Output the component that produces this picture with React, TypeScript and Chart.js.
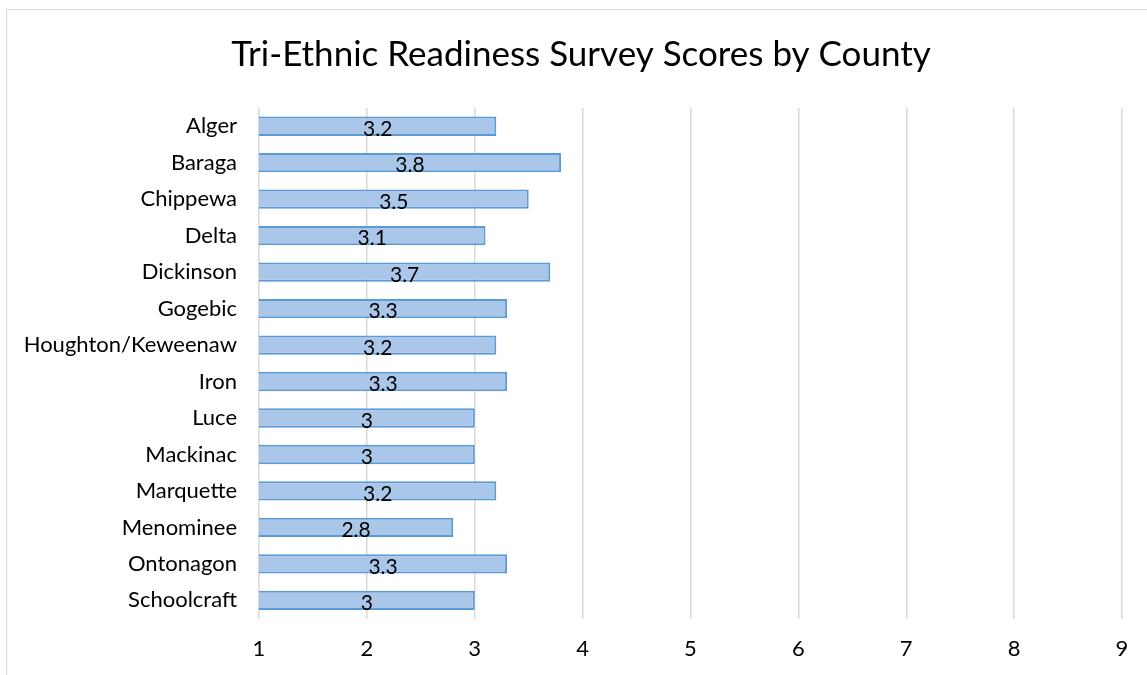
import React, { useEffect, useRef } from "react";
import { Chart, registerables } from "chart.js";

Chart.register(...registerables);

const categories = [
  "Alger",
  "Baraga",
  "Chippewa",
  "Delta",
  "Dickinson",
  "Gogebic",
  "Houghton/Keweenaw",
  "Iron",
  "Luce",
  "Mackinac",
  "Marquette",
  "Menominee",
  "Ontonagon",
  "Schoolcraft",
];
const scores = [3.2, 3.8, 3.5, 3.1, 3.7, 3.3, 3.2, 3.3, 3, 3, 3.2, 2.8, 3.3, 3];
const titleText = "Tri-Ethnic Readiness Survey Scores by County";
const xMin = 1;
const xMax = 9;

const FONT = "Lato, 'Open Sans', sans-serif";

const labelPlugin = {
  id: "barLabels",
  afterLayout(chart: any) {
    if (chart.titleBlock) {
      chart.titleBlock.left = 40;
    }
  },
  afterDatasetsDraw(chart: any) {
    const ctx = chart.ctx;
    const meta = chart.getDatasetMeta(0);
    const left = chart.chartArea.left;
    ctx.save();
    ctx.font = `21px ${FONT}`;
    ctx.fillStyle = "#000";
    ctx.textAlign = "center";
    ctx.textBaseline = "middle";
    meta.data.forEach((bar: any, i: number) => {
      const { x, y } = bar.getProps(["x", "y"], true);
      const cx = (x + left) / 2;
      ctx.fillText(String(scores[i]), cx, y + 3);
    });
    ctx.restore();
  },
};

export default function App() {
  const ref = useRef<HTMLCanvasElement>(null);
  useEffect(() => {
    if (!ref.current) return;
    const chart = new Chart(ref.current, {
      type: "bar",
      data: {
        labels: categories,
        datasets: [
          {
            data: scores,
            backgroundColor: (c: any) => {
              const area = c.chart.chartArea;
              if (!area) return "#aac7ea";
              const el = c.element;
              if (!el || el.y === undefined) return "#aac7ea";
              const h = 19;
              const g = c.chart.ctx.createLinearGradient(0, el.y - h / 2, 0, el.y + h / 2);
              g.addColorStop(0, "#b7cff0");
              g.addColorStop(1, "#94b8e6");
              return g;
            },
            borderColor: "#5b9bd5",
            borderWidth: 2,
            borderSkipped: false,
            barPercentage: 0.53,
            categoryPercentage: 1,
          },
        ],
      },
      options: {
        indexAxis: "y",
        animation: false,
        responsive: false,
        maintainAspectRatio: false,
        layout: { padding: { left: 0, right: 25, top: 0, bottom: -4 } },
        plugins: {
          legend: { display: false },
          tooltip: { enabled: false },
          title: {
            display: true,
            text: titleText,
            color: "#000",
            font: { family: FONT, size: 35, weight: "normal" },
            padding: { top: 34, bottom: 32 },
          },
        },
        scales: {
          x: {
            min: xMin,
            max: xMax,
            ticks: {
              stepSize: 1,
              color: "#000",
              font: { family: FONT, size: 22 },
              padding: 17,
            },
            grid: { color: "#d9d9d9", lineWidth: 1.5, drawTicks: false },
            border: { display: false },
          },
          y: {
            ticks: {
              color: "#000",
              font: { family: FONT, size: 22 },
              padding: 22,
            },
            grid: { display: false, drawTicks: false },
            border: { display: false },
            afterFit: (s: any) => {
              s.width = 259;
            },
          },
        },
      },
      plugins: [labelPlugin],
    });
    return () => chart.destroy();
  }, []);
  return (
    <div style={{ position: "fixed", left: 0, top: 0, width: 1147, height: 675, background: "#fff", overflow: "hidden" }}>
      <div
        style={{
          position: "absolute",
          left: 6,
          top: 9,
          width: 1300,
          height: 800,
          border: "1px solid #d9d9d9",
        }}
      />
      <canvas ref={ref} width={1147} height={675} style={{ position: "absolute", left: 0, top: 0 }} />
    </div>
  );
}
